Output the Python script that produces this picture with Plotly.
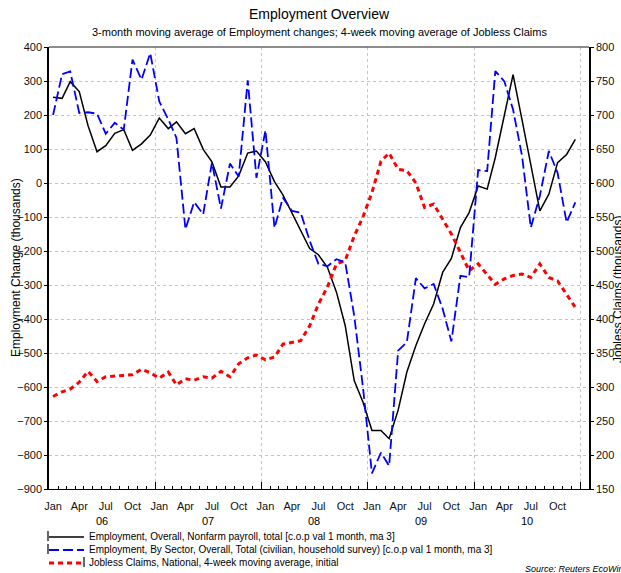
import plotly.graph_objects as go
import pandas as pd

# ---------------- data ----------------
months = list(pd.date_range("2006-01-01", periods=60, freq="MS") + pd.Timedelta(days=14))

payroll = [252, 249, 298, 269, 169, 92, 110, 146, 157, 96, 115, 141,
           191, 160, 180, 145, 160, 99, 62, -12, -12, 21, 88, 94,
           62, 4, -35, -88, -138, -193, -211, -248, -321, -419, -581, -644,
           -728, -728, -752, -668, -556, -478, -414, -356, -263, -222, -131, -87,
           -9, -18, 75, 195, 319, 185, 52, -82, -33, 60, 84, 128]

household = [200, 320, 328, 206, 208, 204, 145, 177, 157, 363, 304, 382,
             240, 187, 133, -136, -56, -92, 60, -75, 57, 19, 302, 15,
             155, -132, -43, -82, -87, -170, -238, -245, -224, -233, -390, -600,
             -854, -793, -832, -493, -468, -280, -310, -297, -370, -466, -273, -277,
             38, 35, 329, 299, 216, 79, -131, -38, 94, 30, -116, -57]

claims = [286, 293, 297, 307, 323, 308, 315, 316, 317, 318, 326, 321,
          313, 322, 303, 312, 310, 315, 313, 323, 315, 334, 343, 347,
          340, 344, 363, 365, 368, 390, 422, 447, 481, 486, 522, 550,
          586, 632, 644, 620, 618, 600, 564, 569, 547, 525, 498, 471,
          481, 466, 451, 459, 464, 466, 461, 481, 461, 456, 437, 417]

names = ["Employment, Overall, Nonfarm payroll, total [c.o.p val 1 month, ma 3]",
         "Employment, By Sector, Overall, Total (civilian, household survey) [c.o.p val 1 month, ma 3]",
         "Jobless Claims, National, 4-week moving average, initial"]

month_ticks = ["Jan", "Apr", "Jul", "Oct"]
years = [2006, 2007, 2008, 2009, 2010]
year_labels = ["06", "07", "08", "09", "10"]

# ---------------- layout helpers ----------------
W, H = 621, 573
L, R, T, B = 49, 32, 47, 84
PW, PH = W - L - R, H - T - B
FONT = "Liberation Sans, Arial, sans-serif"


def fx(px):
    return (px - L) / PW


def fy(py):
    return (T + PH - py) / PH


def note(px, py, text, size, xanchor="center", angle=0, xref="paper", xval=None):
    return dict(x=xval if xval is not None else fx(px), y=fy(py), xref=xref, yref="paper",
                text=text, showarrow=False, xanchor=xanchor, yanchor="middle",
                textangle=angle, font=dict(size=size, color="#000", family=FONT))


fig = go.Figure()
fig.add_trace(go.Scatter(x=months, y=payroll, mode="lines", name=names[0],
                         line=dict(color="#000000", width=1.5), showlegend=False))
fig.add_trace(go.Scatter(x=months, y=household, mode="lines", name=names[1], xaxis="x2",
                         line=dict(color="#0000ff", width=1.8, dash="10px,4px"), showlegend=False))
fig.add_trace(go.Scatter(x=months, y=claims, mode="lines", name=names[2], yaxis="y2",
                         line=dict(color="#ff0000", width=3, dash="5px,4px"), showlegend=False))

x_range = ["2006-01-01", "2011-01-31"]
label_vals = [f"{y}-{m:02d}-15" for y in years for m in (1, 4, 7, 10)]
label_text = [month_ticks[i % 4] for i in range(len(label_vals))]

annotations = [note(0, 521, lab, 11, xref="x", xval=f"{y}-07-01")
               for y, lab in zip(years, year_labels)]
annotations += [
    note(319, 14, "Employment Overview", 14),
    note(319, 32, "3-month moving average of Employment changes; 4-week moving average of Jobless Claims", 11),
    note(16, 268, "Employment Change (thousands)", 12, angle=-90),
    note(618, 290, "Jobless Claims (thousands)", 12, angle=-90),
    note(523, 569, "<i>Source: Reuters EcoWin</i>", 9, xanchor="left"),
]

shapes = [dict(type="line", xref="paper", yref="paper", x0=0, x1=1, y0=1, y1=1,
               line=dict(color="#666666", width=1.5))]

legend_rows = [536, 549, 562]
legend_styles = [dict(color="#000000", width=1.5, dash="solid"),
                 dict(color="#0000ff", width=1.8, dash="10px,4px"),
                 dict(color="#ff0000", width=3, dash="5px,4px")]
for i, (py, st) in enumerate(zip(legend_rows, legend_styles)):
    shapes.append(dict(type="line", xref="paper", yref="paper", x0=fx(49), x1=fx(84),
                       y0=fy(py + 1), y1=fy(py + 1), line=st))
    bar_x = fx(84) if i == 2 else fx(48)
    shapes.append(dict(type="line", xref="paper", yref="paper", x0=bar_x, x1=bar_x,
                       y0=fy(py - 5), y1=fy(py + 5), line=dict(color="#000", width=1.2)))
    annotations.append(note(87, py, names[i], 10, xanchor="left"))

grid = dict(gridcolor="#c4c4c4", griddash="dot", gridwidth=1)

fig.update_layout(
    width=W, height=H,
    margin=dict(l=L, r=R, t=T, b=B, autoexpand=False),
    paper_bgcolor="white", plot_bgcolor="white",
    font=dict(family=FONT, size=11, color="#111"),
    xaxis=dict(range=x_range, type="date",
               tickmode="array", tickvals=label_vals, ticktext=label_text,
               ticks="", showgrid=False, ticklabelstandoff=7,
               showline=True, linecolor="#000", linewidth=1, zeroline=False,
               tickfont=dict(size=11, color="#111")),
    xaxis2=dict(range=x_range, type="date", overlaying="x", anchor="y", side="bottom",
                dtick="M12", tick0="2006-01-01", showticklabels=False,
                ticks="inside", ticklen=7, tickcolor="#000",
                showgrid=True, **grid,
                minor=dict(ticks="inside", ticklen=3, dtick="M1", tick0="2006-01-01",
                           tickcolor="#000", showgrid=False),
                showline=False, zeroline=False),
    yaxis=dict(range=[-900, 400], dtick=100, ticks="outside", ticklen=3, tickcolor="#000",
               showline=True, linecolor="#000", linewidth=1.5, zeroline=False,
               showgrid=True, **grid, tickfont=dict(size=11, color="#111")),
    yaxis2=dict(range=[150, 800], dtick=50, overlaying="y", side="right", anchor="x",
                ticks="outside", ticklen=3, tickcolor="#000",
                showline=True, linecolor="#000", linewidth=1.5, zeroline=False,
                showgrid=False, tickfont=dict(size=11, color="#111")),
    annotations=annotations,
    shapes=shapes,
    showlegend=False,
)

fig.write_html("out.html", config={"displayModeBar": False},
               post_script="document.body.style.margin='0';")
